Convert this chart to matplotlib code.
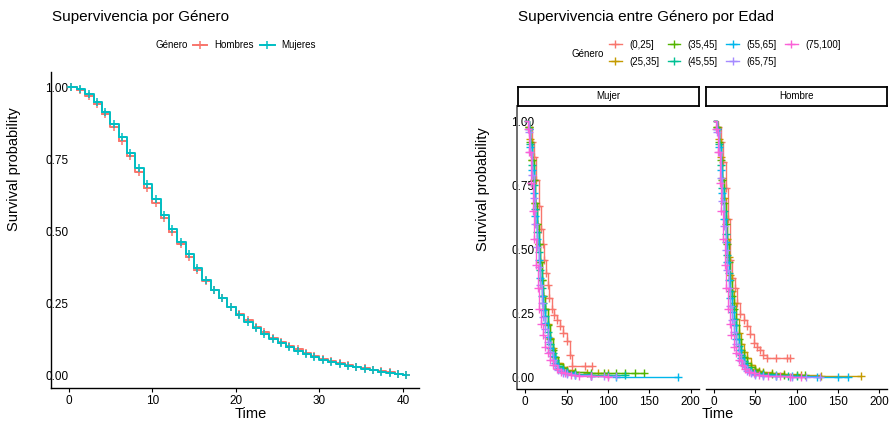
import numpy as np
import matplotlib.pyplot as plt
from matplotlib.lines import Line2D

plt.rcParams['font.family'] = ['Liberation Sans', 'DejaVu Sans']

# --- Supervivencia por género: instante de cada escalón y supervivencia tras él ---
tiempo_genero = [0, 1, 2, 3, 4, 5, 6, 7, 8, 9, 10, 11, 12, 13, 14, 15, 16, 17, 18, 19, 20,
                 21, 22, 23, 24, 25, 26, 27, 28, 29, 30, 31, 32, 33, 34, 35, 36, 37, 38, 39, 40]
surv_hombres = [1.000, 0.990, 0.970, 0.942, 0.905, 0.861, 0.814, 0.760, 0.706, 0.652, 0.600,
                0.547, 0.499, 0.456, 0.413, 0.367, 0.328, 0.296, 0.268, 0.239, 0.213,
                0.192, 0.170, 0.151, 0.132, 0.118, 0.104, 0.092, 0.080, 0.069, 0.059,
                0.050, 0.043, 0.037, 0.031, 0.026, 0.021, 0.016, 0.012, 0.008, 0.004]
surv_mujeres = [1.000, 0.992, 0.975, 0.949, 0.915, 0.871, 0.826, 0.773, 0.719, 0.664, 0.611,
                0.557, 0.508, 0.465, 0.421, 0.373, 0.332, 0.298, 0.269, 0.238, 0.211,
                0.188, 0.165, 0.145, 0.127, 0.113, 0.099, 0.087, 0.075, 0.065, 0.055,
                0.047, 0.040, 0.035, 0.029, 0.024, 0.020, 0.015, 0.011, 0.008, 0.003]
# tiempos censurados (marcas +)
censura_genero = [0.3, 1.4, 2.4, 3.4, 4.4, 5.4, 6.4, 7.4, 8.4, 9.4, 10.4, 11.4, 12.4, 13.4,
                  14.4, 15.4, 16.4, 17.4, 18.4, 19.4, 20.4, 21.4, 22.4, 23.4, 24.4, 25.4,
                  26.4, 27.4, 28.4, 29.4, 30.4, 31.4, 32.4, 33.4, 34.4, 35.4, 36.4, 37.4,
                  38.4, 39.4, 40.4]
generos = ['Hombres', 'Mujeres']
colores_genero = ['#F8766D', '#00BFC4']

# --- Supervivencia por grupo de edad, separada por género ---
grupos_edad = ['(0,25]', '(25,35]', '(35,45]', '(45,55]', '(55,65]', '(65,75]', '(75,100]']
colores_edad = ['#F8766D', '#C49A00', '#53B400', '#00C094', '#00B6EB', '#A58AFF', '#FB61D7']
paneles = ['Mujer', 'Hombre']

m_0_25_t = [0, 5, 8, 10, 13, 16, 19, 21, 23, 25, 27, 29, 32, 35, 38, 42, 46, 50, 54, 56, 72, 81]
m_0_25_s = [1.0, 0.98, 0.92, 0.86, 0.77, 0.67, 0.58, 0.52, 0.46, 0.41, 0.36, 0.31, 0.27, 0.245,
            0.225, 0.20, 0.175, 0.145, 0.09, 0.046, 0.046, 0.046]
m_25_35_t = [0, 4, 6, 8, 10, 12, 14, 16, 18, 20, 22, 24, 27, 30, 33, 36, 40, 45, 50, 60, 75, 88, 100]
m_25_35_s = [1.0, 0.98, 0.93, 0.85, 0.77, 0.68, 0.60, 0.52, 0.45, 0.38, 0.32, 0.27, 0.21, 0.155,
             0.115, 0.082, 0.058, 0.04, 0.03, 0.022, 0.02, 0.019, 0.018]
m_35_45_t = [0, 4, 6, 8, 10, 12, 14, 16, 18, 20, 22, 24, 27, 30, 33, 36, 40, 45, 50, 60, 80, 95,
             110, 120, 133, 144]
m_35_45_s = [1.0, 0.98, 0.92, 0.85, 0.77, 0.68, 0.60, 0.52, 0.45, 0.38, 0.32, 0.27, 0.205, 0.15,
             0.11, 0.08, 0.055, 0.038, 0.028, 0.022, 0.019, 0.018, 0.017, 0.017, 0.017, 0.017]
m_45_55_t = [0, 4, 6, 8, 10, 12, 14, 16, 18, 20, 22, 24, 27, 30, 33, 36, 40, 45, 50, 60, 80, 100, 120]
m_45_55_s = [1.0, 0.97, 0.91, 0.83, 0.75, 0.66, 0.57, 0.49, 0.42, 0.35, 0.29, 0.24, 0.18, 0.13,
             0.095, 0.068, 0.045, 0.03, 0.022, 0.015, 0.012, 0.011, 0.01]
m_55_65_t = [0, 4, 6, 8, 10, 12, 14, 16, 18, 20, 22, 24, 27, 30, 33, 36, 40, 45, 50, 60, 80, 110, 185]
m_55_65_s = [1.0, 0.97, 0.90, 0.81, 0.72, 0.63, 0.54, 0.46, 0.39, 0.32, 0.265, 0.215, 0.16, 0.115,
             0.083, 0.058, 0.038, 0.025, 0.018, 0.012, 0.008, 0.004, 0.004]
m_65_75_t = [0, 4, 6, 8, 10, 12, 14, 16, 18, 20, 22, 24, 27, 30, 33, 36, 40, 45, 50, 60, 80, 95, 110]
m_65_75_s = [1.0, 0.96, 0.88, 0.79, 0.70, 0.60, 0.51, 0.43, 0.36, 0.29, 0.235, 0.19, 0.14, 0.10,
             0.07, 0.048, 0.03, 0.02, 0.014, 0.009, 0.006, 0.005, 0.005]
m_75_100_t = [0, 3, 5, 7, 9, 11, 13, 15, 17, 19, 21, 24, 27, 30, 34, 38, 43, 48, 55, 65, 80, 100]
m_75_100_s = [1.0, 0.97, 0.88, 0.76, 0.65, 0.54, 0.44, 0.35, 0.27, 0.21, 0.165, 0.12, 0.095, 0.07,
              0.048, 0.034, 0.024, 0.018, 0.012, 0.008, 0.005, 0.003]

h_0_25_t = [0, 5, 8, 11, 14, 17, 20, 22, 25, 28, 32, 36, 40, 44, 48, 52, 56, 60, 64, 75, 88, 92]
h_0_25_s = [1.0, 0.98, 0.92, 0.84, 0.74, 0.62, 0.46, 0.39, 0.35, 0.29, 0.25, 0.225, 0.20, 0.17,
            0.134, 0.12, 0.108, 0.09, 0.076, 0.076, 0.076, 0.076]
h_25_35_t = [0, 4, 6, 8, 10, 12, 14, 16, 18, 20, 22, 24, 27, 30, 33, 36, 40, 45, 50, 55, 60, 70,
             85, 105, 130, 178]
h_25_35_s = [1.0, 0.98, 0.93, 0.86, 0.78, 0.70, 0.62, 0.54, 0.47, 0.40, 0.34, 0.29, 0.23, 0.175,
             0.13, 0.10, 0.075, 0.05, 0.035, 0.028, 0.022, 0.017, 0.013, 0.01, 0.007, 0.005]
h_35_45_t = [0, 4, 6, 8, 10, 12, 14, 16, 18, 20, 22, 24, 27, 30, 33, 36, 40, 45, 50, 55, 60, 70,
             85, 100, 110]
h_35_45_s = [1.0, 0.98, 0.92, 0.85, 0.77, 0.68, 0.60, 0.52, 0.45, 0.38, 0.32, 0.27, 0.205, 0.15,
             0.11, 0.08, 0.058, 0.04, 0.03, 0.024, 0.02, 0.016, 0.012, 0.01, 0.01]
h_45_55_t = [0, 4, 6, 8, 10, 12, 14, 16, 18, 20, 22, 24, 27, 30, 33, 36, 40, 45, 50, 60, 75, 90, 100]
h_45_55_s = [1.0, 0.97, 0.91, 0.83, 0.74, 0.65, 0.56, 0.48, 0.41, 0.34, 0.28, 0.23, 0.17, 0.125,
             0.09, 0.065, 0.043, 0.028, 0.02, 0.013, 0.009, 0.007, 0.006]
h_55_65_t = [0, 4, 6, 8, 10, 12, 14, 16, 18, 20, 22, 24, 27, 30, 33, 36, 40, 45, 50, 60, 75, 95,
             125, 150, 162]
h_55_65_s = [1.0, 0.97, 0.90, 0.81, 0.72, 0.62, 0.53, 0.45, 0.38, 0.31, 0.255, 0.205, 0.15, 0.108,
             0.077, 0.054, 0.035, 0.023, 0.016, 0.01, 0.007, 0.005, 0.003, 0.003, 0.003]
h_65_75_t = [0, 4, 6, 8, 10, 12, 14, 16, 18, 20, 22, 24, 27, 30, 33, 36, 40, 45, 50, 60, 75, 95,
             112, 128]
h_65_75_s = [1.0, 0.96, 0.88, 0.78, 0.69, 0.59, 0.50, 0.42, 0.35, 0.28, 0.225, 0.18, 0.13, 0.093,
             0.065, 0.045, 0.028, 0.018, 0.012, 0.008, 0.005, 0.004, 0.003, 0.003]
h_75_100_t = [0, 3, 5, 7, 9, 11, 13, 15, 17, 19, 21, 24, 27, 30, 34, 38, 43, 48, 55, 65, 80, 92, 105]
h_75_100_s = [1.0, 0.97, 0.88, 0.76, 0.65, 0.54, 0.44, 0.35, 0.27, 0.21, 0.165, 0.12, 0.095, 0.07,
              0.048, 0.034, 0.024, 0.018, 0.012, 0.008, 0.005, 0.004, 0.003]

curvas_mujer = [(m_0_25_t, m_0_25_s), (m_25_35_t, m_25_35_s), (m_35_45_t, m_35_45_s),
                (m_45_55_t, m_45_55_s), (m_55_65_t, m_55_65_s), (m_65_75_t, m_65_75_s),
                (m_75_100_t, m_75_100_s)]
curvas_hombre = [(h_0_25_t, h_0_25_s), (h_25_35_t, h_25_35_s), (h_35_45_t, h_35_45_s),
                 (h_45_55_t, h_45_55_s), (h_55_65_t, h_55_65_s), (h_65_75_t, h_65_75_s),
                 (h_75_100_t, h_75_100_s)]

W, H = 893, 425


def caja(x0, y0, x1, y1):
    # rectángulo en píxeles (origen arriba a la izquierda) -> coordenadas de figura
    return [x0 / W, 1 - y1 / H, (x1 - x0) / W, (y1 - y0) / H]


def estilo_ejes(ax, eje_y=True):
    for lado in ['top', 'right']:
        ax.spines[lado].set_visible(False)
    ax.spines['bottom'].set_linewidth(1.0)
    ax.spines['left'].set_linewidth(1.0)
    ax.tick_params(axis='x', length=3, width=0.8, pad=2.3, labelsize=8.5, colors='black')
    ax.tick_params(axis='y', length=0, pad=4.3, labelsize=8.5)
    if eje_y:
        for lab in ax.get_yticklabels():
            lab.set_horizontalalignment('left')


fig = plt.figure(figsize=(W / 100, H / 100), dpi=100)

# ---------------- Panel izquierdo ----------------
ax1 = fig.add_axes(caja(51, 72, 419, 388))
t_fin = tiempo_genero + [censura_genero[-1]]
for surv, color in zip([surv_hombres, surv_mujeres], colores_genero):
    ax1.step(t_fin, surv + [surv[-1]], where='post', color=color, lw=1.4)
    idx = np.searchsorted(tiempo_genero, censura_genero, side='right') - 1
    ax1.plot(censura_genero, np.array(surv)[idx], ls='none', marker='+', ms=6,
             mew=1.1, color=color)
ax1.set_xlim(-2.1, 41.9)
ax1.set_ylim(-0.042, 1.052)
ax1.set_xticks([0, 10, 20, 30, 40])
ax1.set_yticks([0, 0.25, 0.5, 0.75, 1.0])
ax1.set_yticklabels(['0.00', '0.25', '0.50', '0.75', '1.00'])
estilo_ejes(ax1)
ax1.set_xlabel('Time', fontsize=10.5, va='center')
ax1.xaxis.set_label_coords((251 - 51) / 368, (388 - 414) / 316)
ax1.set_ylabel('Survival probability', fontsize=10.5, va='center')
ax1.yaxis.set_label_coords((14 - 51) / 368, (388 - 169) / 316)

fig.text(52 / W, 1 - 21 / H, 'Supervivencia por Género', fontsize=11, va='baseline')
fig.text(155.5 / W, 1 - 45 / H, 'Género', fontsize=7, va='center')
handles_g = [Line2D([], [], color=c, lw=1.4, marker='+', ms=6, mew=1.1) for c in colores_genero]
fig.legend(handles_g, generos, ncol=2, loc='center left',
           bbox_to_anchor=(193 / W, 1 - 45 / H), frameon=False, fontsize=7,
           handlelength=1.45, handletextpad=0.72, columnspacing=0.7,
           borderpad=0, borderaxespad=0)

# ---------------- Paneles por edad ----------------
posiciones = [(517, 699), (705.7, 887.3)]
for k, (nombre, curvas, (x0, x1)) in enumerate(zip(paneles, [curvas_mujer, curvas_hombre],
                                                      posiciones)):
    ax = fig.add_axes(caja(x0, 106, x1, 389))
    for (t, s), color in zip(curvas, colores_edad):
        ax.step(t, s, where='post', color=color, lw=1.0)
        ax.plot(t[1:], s[1:], ls='none', marker='+', ms=5.5, mew=1.0, color=color)
    ax.set_xlim(-10, 210)
    ax.set_ylim(-0.044, 1.06)
    ax.set_xticks([0, 50, 100, 150, 200])
    ax.set_yticks([0, 0.25, 0.5, 0.75, 1.0])
    if k == 0:
        ax.set_yticklabels(['0.00', '0.25', '0.50', '0.75', '1.00'])
        estilo_ejes(ax)
        ax.spines['left'].set_color('#6e6e6e')
        ax.spines['left'].set_linewidth(1.4)
        ax.set_ylabel('Survival probability', fontsize=10.5, va='center')
        ax.yaxis.set_label_coords((483 - x0) / (x1 - x0), (389 - 189) / 283)
    else:
        estilo_ejes(ax, eje_y=False)
        ax.set_yticklabels([])
        ax.spines['left'].set_visible(False)

    # cabecera de la faceta
    st = fig.add_axes(caja(x0 + 0.7, 86.7, x1, 106))
    st.set_xticks([])
    st.set_yticks([])
    for lado in st.spines.values():
        lado.set_linewidth(1.3)
        lado.set_color('black')
    st.text(0.5, 0.5, nombre, fontsize=7, ha='center', va='center', transform=st.transAxes)

fig.text(718 / W, 1 - 414 / H, 'Time', fontsize=10.5, ha='center', va='center')
fig.text(517.5 / W, 1 - 21 / H, 'Supervivencia entre Género por Edad', fontsize=11, va='baseline')
fig.text(571.5 / W, 1 - 54 / H, 'Género', fontsize=7, va='center')
handles_e = [Line2D([], [], color=c, lw=1.0, marker='+', ms=5.5, mew=1.0) for c in colores_edad]
fig.legend(handles_e, grupos_edad, ncol=4, loc='center left',
           bbox_to_anchor=(609 / W, 1 - 53.3 / H), frameon=False, fontsize=7,
           handlelength=1.3, handletextpad=0.78, columnspacing=0.85, labelspacing=0.7,
           borderpad=0, borderaxespad=0)

fig.savefig('out.png', dpi=100)
